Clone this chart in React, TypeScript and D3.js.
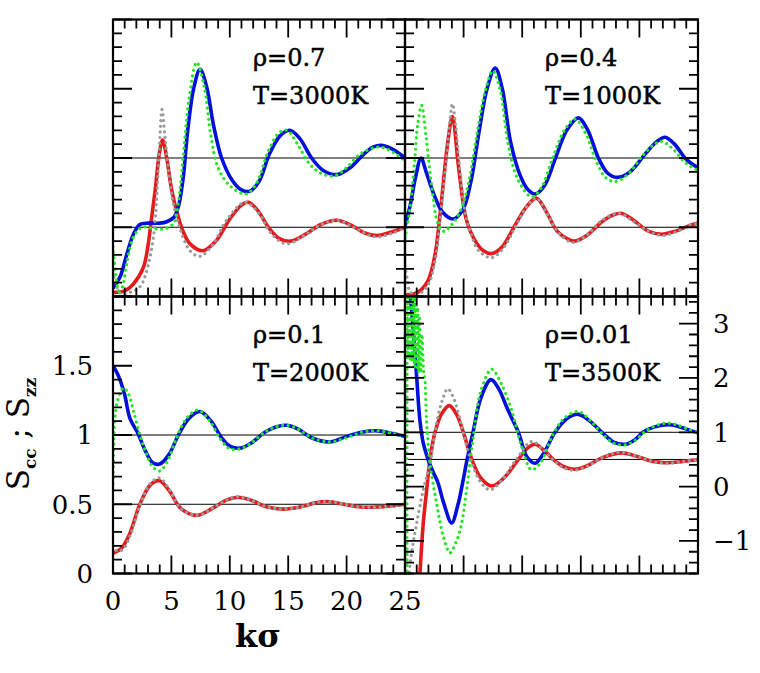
import * as d3 from "d3";

type Pt = [number, number];

// k sigma axis
const kTicks = d3.range(0, 26, 1);
const kLabels = [0, 5, 10, 15, 20, 25];
const sTicks = d3.range(0, 20.5, 1).map((v) => v / 10);
const sLabels = [0, 0.5, 1, 1.5];
const sLinesAt = [0.5, 1];
const rTicks = d3.range(-8, 18, 1).map((v) => v / 5);
const rLabels = [-1, 0, 1, 2, 3];

// rho = 0.7, T = 3000K
const blueA: Pt[] = [[0,0.06],[0.6,0.14],[1.2,0.31],[1.75,0.45],[2.3,0.52],[3,0.53],[4,0.53],[4.6,0.54],[5.2,0.57],[5.6,0.65],[6,0.85],[6.4,1.2],[6.9,1.5],[7.45,1.64],[8,1.52],[8.6,1.24],[9.3,1.0],[10.2,0.84],[11,0.77],[11.7,0.76],[12.5,0.83],[13.4,1.03],[14.3,1.16],[15.15,1.2],[16,1.14],[17,1.0],[18,0.91],[19.15,0.88],[20.3,0.93],[21.5,1.03],[22.3,1.08],[23.1,1.09],[24,1.06],[25,1.0]];
const greenA: Pt[] = [[0,0.36],[0.25,0.15],[0.5,0.04],[0.8,0.07],[1.2,0.25],[1.75,0.43],[2.5,0.5],[3.5,0.49],[4.5,0.49],[5.2,0.53],[5.6,0.68],[6,1.0],[6.5,1.42],[7.16,1.69],[7.8,1.52],[8.4,1.15],[9,0.93],[10,0.8],[11.4,0.74],[12.3,0.82],[13.3,1.05],[14.2,1.18],[14.9,1.2],[15.8,1.1],[16.8,0.96],[17.8,0.89],[18.9,0.87],[20,0.93],[21.2,1.03],[22.8,1.08],[24,1.04],[25,0.98]];
const redA: Pt[] = [[0,0.03],[1,0.04],[1.75,0.09],[2.6,0.21],[3,0.37],[3.25,0.53],[3.6,0.76],[4,1.05],[4.25,1.13],[4.6,1.0],[5,0.78],[5.5,0.6],[6,0.47],[6.6,0.38],[7.7,0.33],[8.8,0.4],[10,0.56],[11,0.66],[11.6,0.68],[12.4,0.62],[13.3,0.5],[14.2,0.42],[15.2,0.4],[16.5,0.45],[17.8,0.52],[19.15,0.55],[20.5,0.51],[21.5,0.46],[22.6,0.44],[24,0.47],[25,0.5]];
const grayA: Pt[] = [[0,0.18],[0.3,0.07],[0.7,0.02],[1.5,0.03],[2.3,0.07],[2.8,0.16],[3.45,0.42],[3.8,0.8],[3.95,1.05],[4.2,1.35],[4.45,1.15],[4.7,0.95],[5.1,0.7],[5.7,0.5],[6.6,0.33],[7.45,0.29],[8.5,0.37],[9.8,0.56],[11.3,0.68],[12.5,0.6],[13.5,0.46],[14.8,0.38],[16.2,0.43],[17.8,0.52],[19.2,0.55],[20.8,0.49],[22.5,0.43],[24,0.46],[25,0.5]];

// rho = 0.4, T = 1000K
const blueB: Pt[] = [[0,0.51],[0.45,0.66],[0.9,0.86],[1.37,1.0],[1.8,0.9],[2.5,0.73],[3.2,0.61],[4.1,0.56],[4.9,0.62],[5.6,0.82],[6.3,1.18],[7,1.5],[7.7,1.65],[8.3,1.5],[9,1.12],[9.8,0.88],[10.5,0.77],[11.1,0.74],[11.9,0.8],[12.8,0.99],[13.8,1.2],[14.8,1.29],[15.6,1.2],[16.5,1.0],[17.3,0.89],[18.1,0.86],[19.2,0.9],[20.5,1.03],[21.5,1.12],[22.2,1.15],[23,1.1],[24,0.99],[25,0.93]];
const greenB: Pt[] = [[0,0.42],[0.4,0.62],[0.8,0.95],[1.1,1.25],[1.42,1.38],[1.8,1.15],[2.3,0.78],[2.8,0.53],[3.3,0.47],[4,0.52],[4.8,0.63],[5.5,0.85],[6.2,1.2],[6.9,1.5],[7.5,1.63],[8.1,1.5],[8.8,1.1],[9.6,0.85],[10.8,0.72],[11.6,0.78],[12.6,1.0],[13.6,1.2],[14.5,1.28],[15.4,1.18],[16.3,0.98],[17.1,0.86],[17.9,0.83],[19,0.88],[20.3,1.02],[21.3,1.1],[21.9,1.12],[22.8,1.07],[24,0.96],[25,0.91]];
const redB: Pt[] = [[0,0.01],[0.8,0.02],[1.4,0.05],[2,0.12],[2.56,0.3],[3.1,0.68],[3.6,1.08],[4.05,1.3],[4.55,0.95],[5.25,0.55],[6,0.4],[6.7,0.33],[7.4,0.31],[8.3,0.36],[9.3,0.5],[10.3,0.64],[11.2,0.71],[12,0.62],[13,0.47],[14,0.41],[14.5,0.4],[15.5,0.44],[16.8,0.54],[17.8,0.59],[18.5,0.6],[19.5,0.55],[20.8,0.47],[21.9,0.45],[23,0.47],[24.2,0.51],[25,0.53]];
const grayB: Pt[] = [[0,0.22],[0.2,0.12],[0.45,0.03],[1.2,0.02],[2,0.09],[2.56,0.26],[3.1,0.64],[3.6,1.05],[3.85,1.28],[4.05,1.39],[4.3,1.25],[4.6,0.98],[5.1,0.62],[5.6,0.46],[6.3,0.33],[7.4,0.28],[8.4,0.35],[9.4,0.5],[10.4,0.65],[11.2,0.71],[12.1,0.6],[13.1,0.46],[14.3,0.39],[15.6,0.45],[16.8,0.55],[18.3,0.6],[19.5,0.54],[20.8,0.47],[22,0.44],[23.2,0.47],[24.2,0.51],[25,0.53]];

// rho = 0.1, T = 2000K
const blueC: Pt[] = [[0,1.5],[0.5,1.42],[1,1.29],[1.45,1.12],[2.15,1.01],[2.8,0.88],[3.4,0.8],[4,0.79],[4.8,0.86],[5.6,1.0],[6.5,1.12],[7.45,1.17],[8.4,1.1],[9.3,0.98],[10,0.92],[10.9,0.905],[11.8,0.94],[13,1.02],[14,1.06],[14.9,1.07],[15.9,1.04],[17,0.98],[18.6,0.95],[20,0.99],[21.3,1.02],[22.6,1.03],[24,1.01],[25,0.99]];
const greenC: Pt[] = [[0,0.65],[0.05,0.9],[0.15,1.1],[0.4,1.25],[0.9,1.34],[1.3,1.3],[1.8,1.16],[2.3,1.0],[2.8,0.88],[3.4,0.77],[4,0.74],[4.6,0.8],[5.4,0.97],[6.3,1.12],[7.3,1.18],[8.3,1.1],[9.2,0.97],[10,0.9],[10.9,0.9],[11.8,0.94],[13,1.02],[14,1.06],[14.9,1.07],[15.9,1.04],[17,0.98],[18.6,0.95],[20,0.98],[21.3,1.02],[22.6,1.03],[24,1.01],[25,0.99]];
const redC: Pt[] = [[0,0.145],[0.7,0.18],[1.4,0.28],[2.3,0.5],[3.2,0.64],[3.97,0.67],[4.8,0.6],[5.8,0.47],[7.2,0.42],[8.5,0.47],[9.7,0.53],[10.7,0.55],[11.8,0.53],[13.2,0.48],[14.6,0.465],[16,0.48],[17.3,0.51],[18.4,0.52],[19.8,0.5],[21.2,0.48],[22.5,0.48],[24,0.49],[25,0.5]];
const grayC: Pt[] = [[0,0.2],[0.4,0.16],[0.9,0.18],[1.5,0.28],[2.3,0.49],[3.2,0.65],[3.97,0.69],[4.8,0.61],[5.8,0.47],[7.2,0.42],[8.5,0.47],[9.7,0.53],[10.7,0.555],[11.8,0.53],[13.2,0.48],[14.6,0.465],[16,0.48],[17.3,0.51],[18.4,0.52],[19.8,0.5],[21.2,0.48],[22.5,0.48],[24,0.49],[25,0.5]];

// rho = 0.01, T = 3500K (right hand scale)
const blueD: Pt[] = [[0,4.2],[0.4,3.6],[0.7,2.9],[1,2.0],[1.28,1.2],[1.56,0.8],[2,0.48],[2.4,0.27],[2.8,0.08],[3.3,-0.3],[3.98,-0.67],[4.5,-0.35],[4.9,0.05],[5.3,0.5],[5.8,1.0],[6.5,1.65],[7.34,1.97],[8,1.8],[8.7,1.45],[9.67,1.0],[10.4,0.55],[11.1,0.43],[11.8,0.6],[12.8,1.0],[13.8,1.25],[14.8,1.33],[15.8,1.2],[16.8,1.0],[17.8,0.82],[18.8,0.78],[19.6,0.86],[20.3,1.0],[21.3,1.1],[22.6,1.14],[23.6,1.09],[24.4,1.03],[25,0.99]];
const greenD: Pt[] = [[0.18,-3],[0.2,3.8],[0.28,2.4],[0.36,3.7],[0.45,2.3],[0.55,3.7],[0.64,2.3],[0.73,3.6],[0.82,2.2],[0.91,3.5],[1.0,2.2],[1.08,3.3],[1.16,2.1],[1.25,3.1],[1.35,2.1],[1.45,2.8],[1.6,2.1],[1.7,1.97],[1.85,1.17],[2.13,0.43],[2.7,-0.31],[3.27,-0.92],[3.84,-1.22],[4.4,-1.0],[4.84,-0.67],[5.26,-0.06],[5.8,0.86],[6.5,1.78],[7.4,2.16],[8.2,1.9],[9.1,1.41],[9.95,0.74],[10.8,0.31],[11.6,0.45],[12.6,0.95],[13.7,1.28],[14.8,1.38],[15.8,1.22],[16.8,0.98],[17.8,0.8],[18.8,0.77],[19.7,0.86],[20.4,1.0],[21.4,1.12],[22.4,1.17],[23.4,1.12],[24.3,1.04],[25,0.99]];
const redD: Pt[] = [[0,-8],[0.8,-4],[1.05,-2.6],[1.28,-1.59],[1.56,-0.67],[1.85,-0.06],[2.13,0.5],[2.56,1.0],[3.1,1.33],[3.78,1.49],[4.4,1.33],[4.98,1.0],[5.7,0.5],[6.5,0.15],[7.4,0.01],[8.4,0.15],[9.67,0.5],[10.4,0.7],[11.1,0.78],[11.9,0.66],[12.65,0.5],[13.5,0.37],[14.5,0.32],[15.5,0.38],[16.8,0.53],[18.5,0.62],[20,0.54],[21,0.47],[22.2,0.44],[23.6,0.46],[25,0.5]];
const grayD: Pt[] = [[0.15,-2.4],[0.35,-1.6],[0.65,-1.1],[1,-0.67],[1.56,-0.06],[2.13,0.43],[2.7,1.17],[3.2,1.6],[3.65,1.8],[4.2,1.6],[4.9,1.05],[5.6,0.5],[6.4,0.1],[7.25,-0.06],[8.2,0.1],[9.5,0.5],[10.8,0.83],[11.8,0.68],[12.6,0.5],[13.5,0.35],[14.4,0.3],[15.5,0.37],[16.8,0.53],[18.4,0.63],[20,0.54],[21,0.47],[22.2,0.43],[23.6,0.46],[25,0.5]];

const BLUE = "#0010d8";
const RED = "#e41a1c";
const GREEN = "#22e622";
const GRAY = "#9a9a9a";
const FONT = "DejaVu Serif";

const X0 = 113, XM = 405, X1 = 698;
const Y0 = 19.5, YM = 296.5, Y1 = 573.5;

interface PanelDef {
  id: string;
  xr: [number, number];
  yr: [number, number];
  yDomain: [number, number];
  yTicks: number[];
  major: (v: number) => boolean;
  blue: Pt[]; green: Pt[]; red: Pt[]; gray: Pt[];
  rho: string; temp: string;
}

const half = (v: number) => Math.abs(v * 2 - Math.round(v * 2)) < 1e-6;
const whole = (v: number) => Math.abs(v - Math.round(v)) < 1e-6;

const panels: PanelDef[] = [
  { id: "a", xr: [X0, XM], yr: [Y0, YM], yDomain: [0, 2], yTicks: sTicks, major: half, blue: blueA, green: greenA, red: redA, gray: grayA, rho: "ρ=0.7", temp: "T=3000K" },
  { id: "b", xr: [XM, X1], yr: [Y0, YM], yDomain: [0, 2], yTicks: sTicks, major: half, blue: blueB, green: greenB, red: redB, gray: grayB, rho: "ρ=0.4", temp: "T=1000K" },
  { id: "c", xr: [X0, XM], yr: [YM, Y1], yDomain: [0, 2], yTicks: sTicks, major: half, blue: blueC, green: greenC, red: redC, gray: grayC, rho: "ρ=0.1", temp: "T=2000K" },
  { id: "d", xr: [XM, X1], yr: [YM, Y1], yDomain: [-1.6, 3.5], yTicks: rTicks, major: whole, blue: blueD, green: greenD, red: redD, gray: grayD, rho: "ρ=0.01", temp: "T=3500K" },
];

function Panel({ p }: { p: PanelDef }) {
  const x = d3.scaleLinear().domain([0, 25]).range(p.xr);
  const y = d3.scaleLinear().domain(p.yDomain).range([p.yr[1], p.yr[0]]);
  const line = d3.line<Pt>().x((d) => x(d[0])).y((d) => y(d[1])).curve(d3.curveCatmullRom.alpha(0.5));
  const [xa, xb] = p.xr;
  const [ya, yb] = p.yr;

  let ticks = "";
  kTicks.forEach((k) => {
    const len = k % 5 === 0 ? 18 : 9;
    ticks += `M${x(k)},${yb}v${-len}M${x(k)},${ya}v${len}`;
  });
  p.yTicks.forEach((v) => {
    const len = p.major(v) ? 19 : 9;
    ticks += `M${xa},${y(v)}h${len}M${xb},${y(v)}h${-len}`;
  });

  // dotted curves sit on top of the solid ones
  const dotted = { fill: "none", strokeWidth: 3.2, strokeLinecap: "round" as const, strokeDasharray: "0.01 5.6" };
  const solid = { fill: "none", strokeWidth: 3.6, strokeLinejoin: "round" as const };

  return (
    <g>
      <clipPath id={`clip-${p.id}`}>
        <rect x={xa - 1} y={ya} width={xb - xa + 2} height={yb - ya} />
      </clipPath>
      {sLinesAt.map((v) => (
        <line key={v} x1={xa} x2={xb} y1={y(v)} y2={y(v)} stroke="#000" strokeWidth={1} />
      ))}
      <g clipPath={`url(#clip-${p.id})`}>
        <path d={line(p.red) || ""} stroke={RED} {...solid} />
        <path d={line(p.blue) || ""} stroke={BLUE} {...solid} />
        <path d={line(p.gray) || ""} stroke={GRAY} {...dotted} />
        <path d={line(p.green) || ""} stroke={GREEN} {...dotted} />
      </g>
      <path d={ticks} stroke="#000" strokeWidth={1.8} fill="none" />
      <rect x={xa} y={ya} width={xb - xa} height={yb - ya} fill="none" stroke="#000" strokeWidth={2.2} />
      <text x={xa + 140} y={ya + 46} fontSize={24} fontFamily={FONT} stroke="#000" strokeWidth={0.5}>{p.rho}</text>
      <text x={xa + 140} y={ya + 84} fontSize={24} fontFamily={FONT} stroke="#000" strokeWidth={0.5}>{p.temp}</text>
    </g>
  );
}

export default function App() {
  const xBottom = d3.scaleLinear().domain([0, 25]).range([X0, XM]);
  const yLeft = d3.scaleLinear().domain([0, 2]).range([Y1, YM]);
  const yRight = d3.scaleLinear().domain([-1.6, 3.5]).range([Y1, YM]);

  return (
    <svg width={760} height={673} style={{ position: "absolute", left: 0, top: 0, background: "#fff" }} fontFamily={FONT}>
      <rect width={760} height={673} fill="#fff" />
      {panels.map((p) => (
        <Panel key={p.id} p={p} />
      ))}
      {kLabels.map((k) => (
        <text key={k} x={xBottom(k)} y={Y1 + 36.5} fontSize={26} textAnchor="middle">{k}</text>
      ))}
      {sLabels.map((v) => (
        <text key={v} x={93} y={yLeft(v) + 9.4} fontSize={26} textAnchor="end">{v}</text>
      ))}
      {rLabels.map((v) => (
        <text key={v} x={713} y={yRight(v) + 9.4} fontSize={26} textAnchor="start">{v < 0 ? `\u2212${-v}` : v}</text>
      ))}
      <text x={258} y={647} fontSize={32} fontWeight="bold" textAnchor="middle">kσ</text>
      <text transform="translate(29,434) rotate(-90)" fontSize={31} textAnchor="middle">
        S<tspan fontSize={17} fontWeight="bold" dy={7}>cc</tspan>
        <tspan dy={-7}> ; S</tspan>
        <tspan fontSize={17} fontWeight="bold" dy={7}>zz</tspan>
      </text>
    </svg>
  );
}
